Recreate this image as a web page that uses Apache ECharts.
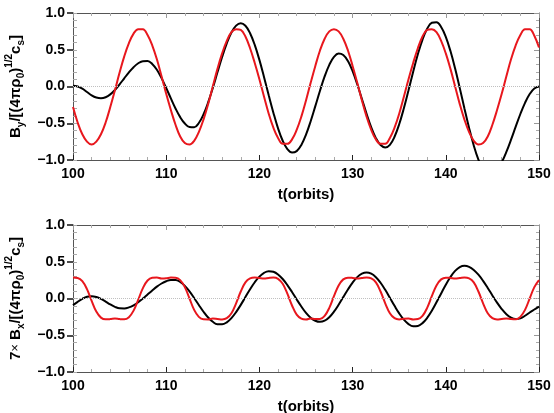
<!DOCTYPE html>
<html><head><meta charset="utf-8">
<script src="https://cdn.jsdelivr.net/npm/echarts@6/dist/echarts.min.js"></script>
<style>html,body{margin:0;padding:0;background:#fff}#c{width:554px;height:413px}</style>
</head><body><div id="c"></div>
<script>
// time samples (orbits)
const tValues = [
100,100.5,101,101.5,102,102.5,103,103.5,104,104.5,
105,105.5,106,106.5,107,107.5,108,108.5,109,109.5,
110,110.5,111,111.5,112,112.5,113,113.5,114,114.5,
115,115.5,116,116.5,117,117.5,118,118.5,119,119.5,
120,120.5,121,121.5,122,122.5,123,123.5,124,124.5,
125,125.5,126,126.5,127,127.5,128,128.5,129,129.5,
130,130.5,131,131.5,132,132.5,133,133.5,134,134.5,
135,135.5,136,136.5,137,137.5,138,138.5,139,139.5,
140,140.5,141,141.5,142,142.5,143,143.5,144,144.5,
145,145.5,146,146.5,147,147.5,148,148.5,149,149.5,
150];
// top panel: By
const topBlack = [
0.01,0.00,-0.03,-0.075,-0.12,-0.15,-0.16,-0.146,-0.107,-0.047,
0.029,0.112,0.192,0.263,0.316,0.345,0.346,0.307,0.227,0.114,
-0.02,-0.162,-0.299,-0.417,-0.504,-0.552,-0.555,-0.497,-0.381,-0.217,
-0.02,0.193,0.402,0.588,0.734,0.828,0.86,0.826,0.725,0.566,
0.362,0.127,-0.119,-0.356,-0.569,-0.738,-0.851,-0.899,-0.879,-0.795,
-0.655,-0.473,-0.267,-0.057,0.137,0.295,0.403,0.449,0.429,0.346,
0.209,0.031,-0.17,-0.372,-0.556,-0.703,-0.797,-0.83,-0.793,-0.684,
-0.514,-0.296,-0.051,0.201,0.438,0.639,0.786,0.867,0.874,0.809,
0.675,0.482,0.244,-0.022,-0.298,-0.564,-0.802,-0.995,-1.129,-1.194,
-1.19,-1.134,-1.031,-0.89,-0.724,-0.547,-0.374,-0.222,-0.102,-0.026,
0.0];
const topRed = [
-0.28,-0.49,-0.65,-0.75,-0.79,-0.75,-0.65,-0.49,-0.28,-0.05,
0.19,0.41,0.59,0.72,0.78,0.78,0.70,0.56,0.37,0.14,
-0.10,-0.32,-0.52,-0.68,-0.77,-0.79,-0.74,-0.62,-0.45,-0.24,
0.00,0.24,0.45,0.62,0.74,0.78,0.77,0.68,0.52,0.32,
0.10,-0.14,-0.37,-0.56,-0.70,-0.78,-0.78,-0.72,-0.59,-0.41,
-0.19,0.05,0.28,0.49,0.65,0.75,0.78,0.75,0.65,0.49,
0.28,0.05,-0.19,-0.41,-0.59,-0.72,-0.78,-0.78,-0.70,-0.56,
-0.37,-0.14,0.10,0.32,0.52,0.68,0.77,0.78,0.74,0.62,
0.45,0.24,0.00,-0.24,-0.45,-0.62,-0.74,-0.79,-0.77,-0.68,
-0.52,-0.32,-0.10,0.14,0.37,0.56,0.70,0.78,0.78,0.69,
0.53];
// bottom panel: 7 x Bx
const botBlack = [
-0.09,-0.045,-0.005,0.024,0.032,0.021,-0.005,-0.042,-0.081,-0.113,
-0.133,-0.135,-0.121,-0.092,-0.051,-0.001,0.054,0.109,0.161,0.204,
0.235,0.252,0.253,0.226,0.172,0.097,0.007,-0.088,-0.18,-0.259,
-0.317,-0.35,-0.352,-0.324,-0.267,-0.185,-0.087,0.02,0.126,0.221,
0.298,0.35,0.372,0.364,0.327,0.265,0.183,0.088,-0.013,-0.109,
-0.195,-0.261,-0.303,-0.318,-0.302,-0.254,-0.179,-0.085,0.019,0.122,
0.216,0.291,0.339,0.355,0.338,0.29,0.214,0.118,0.01,-0.1,
-0.203,-0.288,-0.348,-0.377,-0.373,-0.335,-0.264,-0.167,-0.052,0.069,
0.188,0.292,0.375,0.427,0.445,0.431,0.389,0.324,0.24,0.143,
0.042,-0.056,-0.143,-0.213,-0.26,-0.279,-0.27,-0.235,-0.19,-0.15,
-0.11];
const botRed = [
0.285,0.28,0.237,0.127,-0.032,-0.178,-0.26,-0.284,-0.28,-0.272,
-0.28,-0.284,-0.254,-0.165,-0.016,0.142,0.245,0.282,0.285,0.272,
0.275,0.285,0.283,0.25,0.155,0.0,-0.155,-0.25,-0.283,-0.285,
-0.272,-0.278,-0.285,-0.268,-0.2,-0.065,0.095,0.22,0.274,0.285,
0.278,0.272,0.28,0.285,0.268,0.2,0.065,-0.095,-0.22,-0.274,
-0.285,-0.272,-0.28,-0.28,-0.237,-0.127,0.032,0.178,0.26,0.284,
0.28,0.272,0.278,0.285,0.274,0.22,0.095,-0.065,-0.2,-0.268,
-0.285,-0.275,-0.272,-0.285,-0.28,-0.237,-0.127,0.032,0.178,0.26,
0.284,0.28,0.272,0.278,0.285,0.274,0.22,0.095,-0.065,-0.2,
-0.268,-0.285,-0.278,-0.272,-0.28,-0.283,-0.25,-0.155,0.0,0.155,
0.25];
const xTicks = [100,110,120,130,140,150];
const yTicks = [-1.0,-0.5,0.0,0.5,1.0];
const xTitle = 't(orbits)';
const topTitle = '{b|B}{sub|y}{b|/[(4πρ}{sub|0}{b|)}{sup|1/2}{b|c}{sub|s}{b|]}';
const botTitle = '{b|7}{x|×}{b| B}{sub|x}{b|/[(4πρ}{sub|0}{b|)}{sup|1/2}{b|c}{sub|s}{b|]}';

const FONT = '"Liberation Sans", Arial, Helvetica, sans-serif';
const RED = '#e8171d';
const rich = {
  b:{fontSize:15,fontWeight:'bold',fontFamily:FONT,color:'#000',lineHeight:22},
  x:{fontSize:13,fontWeight:'normal',fontFamily:FONT,color:'#000',lineHeight:22},
  sub:{fontSize:10,fontWeight:'bold',fontFamily:FONT,color:'#000',verticalAlign:'bottom',lineHeight:12},
  sup:{fontSize:10,fontWeight:'bold',fontFamily:FONT,color:'#000',verticalAlign:'top',lineHeight:12}
};
const xMin = xTicks[0], xMax = xTicks[xTicks.length-1], xInt = xTicks[1]-xTicks[0];
const yMin = yTicks[0], yMax = yTicks[yTicks.length-1], yInt = yTicks[1]-yTicks[0];

function pairs(ys){ return tValues.map((t,i)=>[t, ys[i]]); }
function xAx(g, pos){
  const bottom = pos === 'bottom';
  return {type:'value', gridIndex:g, position:pos, min:xMin, max:xMax, interval:xInt,
    axisLine:{show:true,onZero:false,lineStyle:{color:'#555',width:1}},
    axisTick:{show:true,inside:true,length:5,lineStyle:{color:bottom?'#222':'#999',width:1}},
    minorTick:{show:true,splitNumber:5,length:3,lineStyle:{color:'#aaa',width:1}},
    splitLine:{show:false}, minorSplitLine:{show:false},
    axisLabel:{show:bottom,color:'#000',fontFamily:FONT,fontWeight:'bold',fontSize:14,margin:7},
    name: bottom ? xTitle : '', nameLocation:'middle', nameGap:27,
    nameTextStyle:{color:'#000',fontFamily:FONT,fontWeight:'bold',fontSize:15}
  };
}
function yMain(g, title){
  return {type:'value', gridIndex:g, position:'left', min:yMin, max:yMax, interval:yInt,
    axisLine:{show:true,onZero:false,lineStyle:{color:'#555',width:1}},
    axisTick:{show:true,inside:false,length:6,lineStyle:{color:'#111',width:1.5}},
    minorTick:{show:false}, splitLine:{show:false},
    axisLabel:{color:'#000',fontFamily:FONT,fontWeight:'bold',fontSize:14,margin:8,
      formatter:v=>(v<-1e-9?'\u2212':'')+Math.abs(v).toFixed(1)},
    name:title, nameLocation:'middle', nameRotate:90, nameGap:44,
    nameTextStyle:{rich:rich}
  };
}
function yMinor(g){
  return {type:'value', gridIndex:g, position:'left', min:yMin, max:yMax, interval:0.1,
    axisLine:{show:false,onZero:false},
    axisTick:{show:true,inside:true,length:4,lineStyle:{color:'#aaa',width:1}},
    axisLabel:{show:false}, splitLine:{show:false}};
}
function yRight(g){
  return {type:'value', gridIndex:g, position:'right', min:yMin, max:yMax, interval:yInt,
    axisLine:{show:true,onZero:false,lineStyle:{color:'#555',width:1}},
    axisTick:{show:true,inside:true,length:5,lineStyle:{color:'#999',width:1}},
    minorTick:{show:true,splitNumber:5,length:3,lineStyle:{color:'#aaa',width:1}},
    axisLabel:{show:false}, splitLine:{show:false}};
}
const zeroLine = {silent:true, symbol:['none','none'], label:{show:false},
  lineStyle:{type:'dotted',color:'#c0c0c0',width:1}, data:[{yAxis:0}]};
function line(xi, yi, ys, color, withZero){
  const s = {type:'line', xAxisIndex:xi, yAxisIndex:yi, data:pairs(ys), showSymbol:false,
    smooth:0.4, clip:true, lineStyle:{color:color,width:2}, itemStyle:{color:color}, z:3};
  if (withZero) s.markLine = zeroLine;
  return s;
}
const chart = echarts.init(document.getElementById('c'), null, {renderer:'canvas'});
chart.setOption({
  animation:false,
  backgroundColor:'#fff',
  grid:[
    {left:73, top:13, width:466, height:147, containLabel:false, outerBoundsMode:'none'},
    {left:73, top:225, width:466, height:147, containLabel:false, outerBoundsMode:'none'}
  ],
  xAxis:[xAx(0,'bottom'), xAx(0,'top'), xAx(1,'bottom'), xAx(1,'top')],
  yAxis:[yMain(0,topTitle), yMinor(0), yRight(0), yMain(1,botTitle), yMinor(1), yRight(1)],
  series:[
    line(0,0,topBlack,'#000',true),
    line(0,0,topRed,RED,false),
    line(2,3,botBlack,'#000',true),
    line(2,3,botRed,RED,false)
  ]
});
</script></body></html>
